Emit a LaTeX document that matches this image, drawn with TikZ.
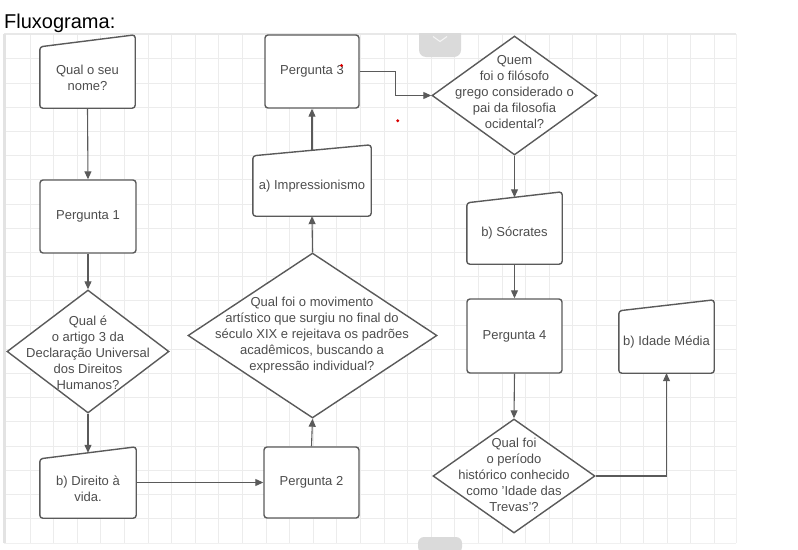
\documentclass[tikz,border=0pt]{standalone}
\usepackage{fontspec}
\setmainfont{Liberation Sans}
\usetikzlibrary{arrows.meta,shapes.geometric,calc}
\definecolor{ln}{HTML}{5A5A5A}
\definecolor{tx}{HTML}{4D4D4D}
\definecolor{gridc}{HTML}{ECECEC}
\definecolor{tabc}{HTML}{DADADA}
\newcommand\manshape[2]{%
  \draw[shp] (#1.south west) -- (#1.north west) -- ([yshift=#2]#1.north east) -- (#1.south east) -- cycle;}
\begin{document}
\begin{tikzpicture}[x=1pt,y=-1pt,
  shp/.style={draw=ln, line width=1.4pt, rounded corners=3pt, fill=white},
  box/.style={shp, rectangle, text=tx, font=\fontsize{13}{16}\selectfont, align=center, inner sep=0},
  dia/.style={diamond, draw=ln, line width=1.4pt, fill=white, inner sep=0},
  area/.style={inner sep=0, rectangle},
  lbl/.style={text=tx, font=\fontsize{13}{16}\selectfont, align=center, inner sep=0},
  conn/.style={draw=ln, line width=1.1pt, -{Triangle[length=8pt,width=7pt]}}]
\useasboundingbox (0,0) rectangle (798,549);
% grid
\foreach \i in {1,...,30} \draw[gridc, line width=0.7pt] ({6.3+23.6*\i},34) -- ({6.3+23.6*\i},543);
\foreach \j in {1,...,20} \draw[gridc, line width=0.7pt] (4,{34.6+24.2*\j}) -- (736,{34.6+24.2*\j});
\draw[gray!18, line width=1.2pt] (4,34) -- (736,34);
\draw[gray!12, line width=1pt] (4,543) -- (736,543);
\draw[gray!12, line width=1pt] (736,34) -- (736,543);
\fill[gray!22] (3,34) rectangle (6,543);
% tabs
\fill[tabc, rounded corners=7pt] (419,20) -- (419,57) -- (461,57) -- (461,20) -- cycle;
\fill[white] (415,15) rectangle (465,33.4);
\draw[white!70!tabc, line width=1.1pt] (433,36.5) -- (440,41.5) -- (447,36.5);
\fill[tabc, rounded corners=6pt] (418,553) -- (418,537) -- (462,537) -- (462,553) -- cycle;
% title
\node[anchor=base west, font=\fontsize{20}{24}\selectfont, inner sep=0] (title) at (4,28) {Fluxograma:};
% column 1
\node[area, minimum width=95, minimum height=61] (m1) at (87.5,77.5) {};
\manshape{m1}{12pt}
\node[lbl] (m1t) at (m1) {Qual o seu\\nome?};
\node[box, minimum width=96, minimum height=73] (p1) at (88,216.5) {Pergunta 1};
\node[dia, minimum width=162, minimum height=123] (d1) at (88,351.5) {};
\node[lbl] (d1t) at (88,352.5) {Qual é\\o artigo 3 da\\Declaração Universal\\dos Direitos\\Humanos?};
\node[area, minimum width=96, minimum height=59] (m2) at (88,488.5) {};
\manshape{m2}{12pt}
\node[lbl] (m2t) at (m2) {b) Direito à\\vida.};
% column 2
\node[box, minimum width=95, minimum height=71] (p2) at (311.5,482.5) {Pergunta 2};
\node[dia, minimum width=249, minimum height=165] (d2) at (312.5,335.5) {};
\node[lbl] (d2t) at (312,335.5) {Qual foi o movimento\\artístico que surgiu no final do\\século XIX e rejeitava os padrões\\acadêmicos, buscando a\\expressão individual?};
\node[area, minimum width=118, minimum height=60] (m3) at (312,186) {};
\manshape{m3}{11pt}
\node[lbl] (m3t) at (m3) {a) Impressionismo};
\node[box, minimum width=94, minimum height=73] (p3) at (312,71.5) {Pergunta 3};
% column 3
\node[dia, minimum width=165, minimum height=119] (d3) at (514.5,95.5) {};
\node[lbl] (d3t) at (514.5,92) {Quem\\foi o filósofo\\grego considerado o\\pai da filosofia\\ocidental?};
\node[area, minimum width=95, minimum height=61] (m4) at (514.5,233.5) {};
\manshape{m4}{11pt}
\node[lbl] (m4t) at (m4) {b) Sócrates};
\node[box, minimum width=95, minimum height=74] (p4) at (514.5,336) {Pergunta 4};
\node[dia, minimum width=162, minimum height=114] (d4) at (514,476) {};
\node[lbl] (d4t) at (514,474.5) {Qual foi\\o período\\histórico conhecido\\como 'Idade das\\Trevas'?};
\node[area, minimum width=95, minimum height=62] (m5) at (666.5,342) {};
\manshape{m5}{11pt}
\node[lbl] (m5t) at (m5) {b) Idade Média};
% connectors
\draw[conn] (m1.south) -- (p1.north);
\draw[conn] (p1.south) -- (d1.north);
\draw[conn] (d1.south) -- ([yshift=6pt]m2.north);
\draw[conn] (p2.west -| m2.east) -- (p2.west);
\draw[conn] (p2.north) -- (d2.south);
\draw[conn] (d2.north) -- (m3.south);
\draw[conn] ([yshift=5.5pt]m3.north) -- (p3.south);
\draw[conn] (p3.east) -- ++(36,0) |- (d3.west);
\draw[conn] (d3.south) -- ([yshift=5.5pt]m4.north);
\draw[conn] (m4.south) -- (p4.north);
\draw[conn] (p4.south) -- (d4.north);
\draw[conn] (d4.east) -| (m5.south);
% stray red dots
\fill[red!85!black] (341.5,65.5) circle (1.6);
\fill[red!85!black] (397.7,120.7) circle (1.6);
\end{tikzpicture}
\end{document}
